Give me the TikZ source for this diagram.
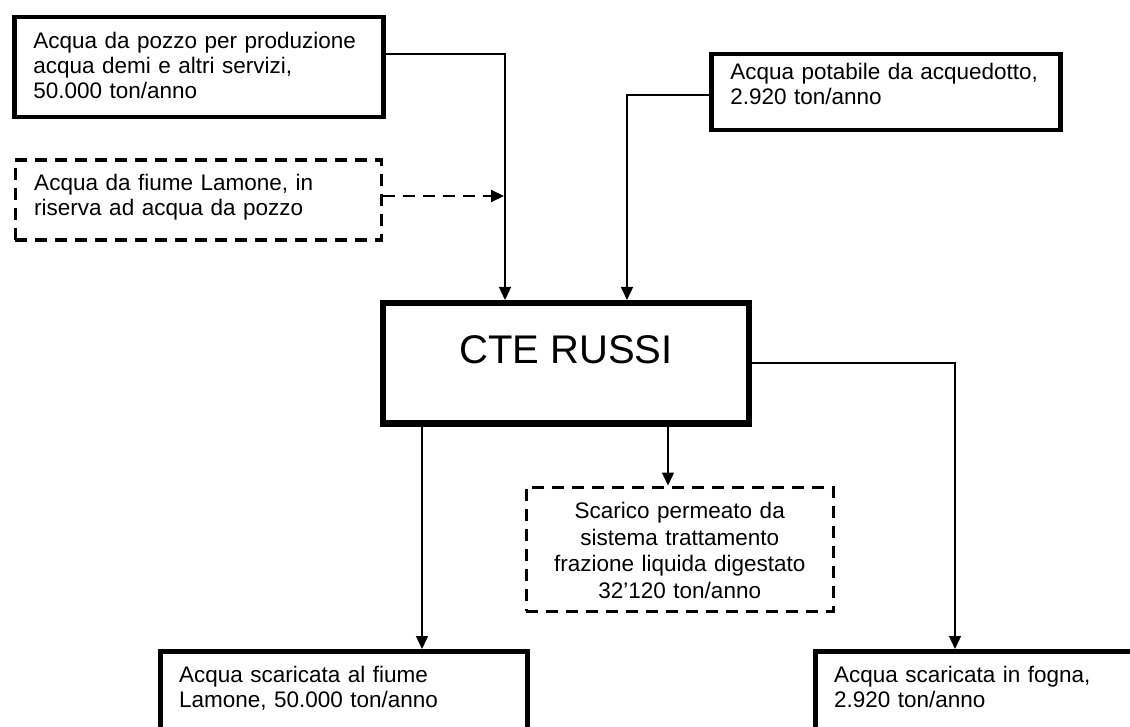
\documentclass[tikz,border=0pt]{standalone}
\usepackage{fontspec}
\setmainfont{Liberation Sans}
\usetikzlibrary{arrows.meta}
\begin{document}
\begin{tikzpicture}[x=1pt, y=-1pt, line join=miter,
    txt/.style={font=\fontsize{22.5}{25}\selectfont},
    box/.style={txt, draw, line width=4.5pt, anchor=north west, align=left,
        inner xsep=19pt, inner ysep=15pt, text height=16pt},
    dbox/.style={box, line width=3.5pt, dash pattern=on 12pt off 8pt},
    flow/.style={line width=1.4pt, -{Triangle[length=13pt,width=12pt]}},
    dflow/.style={flow, line width=2.2pt, dash pattern=on 12pt off 8pt}]
		\useasboundingbox (0,0) rectangle (1130,727);
		\clip (0,0) rectangle (1130,727);
		\begin{scope}
			\node[box, text width=331pt, text depth=54pt] (pozzo) at (12,15) {Acqua da pozzo per produzione\\acqua demi e altri servizi,\\50.000 ton/anno};
			\node[dbox, text width=328pt, inner ysep=14pt, text depth=36pt] (lamone) at (13.5,158.5) {Acqua da fiume Lamone, in\\riserva ad acqua da pozzo};
			\node[box, text width=311pt, inner ysep=9pt, text depth=42pt] (acq) at (709,52) {Acqua potabile da acquedotto,\\2.920 ton/anno};
			\node[draw, line width=6.5pt, anchor=north, minimum width=366pt, inner ysep=31.7pt,
				text height=29pt, text depth=27.6pt, font=\fontsize{40}{44}\selectfont] (cte) at (566,300) {CTE RUSSI};
			\node[dbox, align=center, text width=269pt, inner ysep=15.5pt, text depth=77pt,
				font=\fontsize{22.5}{26.5}\selectfont] (permeato) at (524.5,485.5) {Scarico permeato da\\sistema trattamento\\frazione liquida digestato\\32'120 ton/anno};
			\node[box, line width=5pt, text width=329pt, text depth=74pt] (scfiume) at (157.5,649) {Acqua scaricata al fiume\\Lamone, 50.000 ton/anno};
			\node[box, line width=5pt, text width=329pt, text depth=74pt] (fogna) at (812.5,649) {Acqua scaricata in fogna,\\2.920 ton/anno};
			\coordinate (merge) at (504,196);
		\end{scope}
		\draw[flow] (pozzo.east |- 0,54) -| (cte.north -| 505,0);
		\draw[dflow] (lamone.east |- merge) -- (merge);
		\draw[flow] (acq.west |- 0,95) -| (cte.north -| 627,0);
		\draw[flow] (cte.south -| 422,0) -- (scfiume.north -| 422,0);
		\draw[flow] (cte.south -| 668,0) -- (permeato.north -| 668,0);
		\draw[flow] (cte.east |- 0,363) -| (fogna.north -| 955,0);
	\end{tikzpicture}
\end{document}
